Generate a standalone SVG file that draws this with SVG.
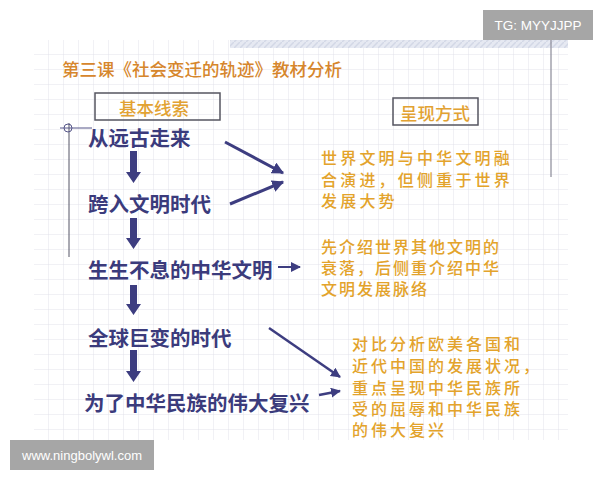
<svg xmlns="http://www.w3.org/2000/svg" width="600" height="480" viewBox="0 0 600 480">
<defs>
<pattern id="grid" x="34" y="40" width="15" height="15" patternUnits="userSpaceOnUse">
<path d="M15 0V15M0 15H15" fill="none" stroke="#e2e2ea" stroke-width="1"/>
</pattern>
<pattern id="hatch" width="6" height="6" patternUnits="userSpaceOnUse">
<rect width="6" height="6" fill="#e6e9f2"/>
<path d="M0 6L6 0" stroke="#d3d8e6" stroke-width="1.5"/>
</pattern>
<marker id="ah" viewBox="0 0 10 10" refX="9" refY="5" markerWidth="4" markerHeight="4" orient="auto" markerUnits="strokeWidth">
<path d="M0 0L10 5L0 10z" fill="#3d3d80"/>
</marker>
<marker id="ahs" viewBox="0 0 10 10" refX="9" refY="5" markerWidth="5" markerHeight="5" orient="auto" markerUnits="strokeWidth">
<path d="M0 0L10 5L0 10z" fill="#3d3d80"/>
</marker>
</defs>
<style>
.main{font-family:"Noto Sans CJK SC","Noto Sans",sans-serif;font-size:20.5px;font-weight:bold;fill:#3b3b7c;dominant-baseline:central}
.desc{font-family:"Noto Sans CJK SC","Noto Sans",sans-serif;font-size:16px;font-weight:500;fill:#e3a32b;dominant-baseline:central}
.hdr{font-family:"Noto Sans CJK SC","Noto Sans",sans-serif;font-size:17.5px;font-weight:500;fill:#e2a232;text-anchor:middle;dominant-baseline:central}
.box{fill:none;stroke:#555560;stroke-width:1.5}
.conn{stroke:#3d3d80;stroke-width:3;fill:none}
.down{fill:#3d3d80}
.wm{font-family:"Liberation Sans","DejaVu Sans",sans-serif;fill:#ffffff;dominant-baseline:central}
</style>
<rect width="600" height="480" fill="#ffffff"/>
<rect x="34" y="40" width="534" height="400" fill="url(#grid)"/>
<rect x="230" y="40" width="338" height="8" fill="url(#hatch)"/>
<line x1="551" y1="40" x2="551" y2="177" stroke="#8a8a98" stroke-width="1.2"/>
<line x1="69" y1="123" x2="69" y2="257" stroke="#555566" stroke-width="1"/>
<line x1="60" y1="128" x2="92" y2="128" stroke="#555588" stroke-width="1"/>
<circle cx="68" cy="128" r="4" fill="none" stroke="#555588" stroke-width="1"/>
<text x="62" y="68" font-family="Noto Sans CJK SC, Noto Sans, sans-serif" font-size="17.5" font-weight="500" fill="#d6862c" dominant-baseline="central">第三课《社会变迁的轨迹》教材分析</text>
<g id="header-basic">
<rect class="box" x="95" y="93" width="125" height="27"/>
<text class="hdr" x="154" y="107">基本线索</text>
</g>
<g id="header-present">
<rect class="box" x="393" y="98" width="85" height="27"/>
<text class="hdr" x="435" y="112">呈现方式</text>
</g>
<g id="n1"><text class="main" x="88" y="137">从远古走来</text></g>
<g id="n2"><text class="main" x="88" y="203">跨入文明时代</text></g>
<g id="n3"><text class="main" x="88" y="269">生生不息的中华文明</text></g>
<g id="n4"><text class="main" x="88" y="337">全球巨变的时代</text></g>
<g id="n5"><text class="main" x="84" y="402">为了中华民族的伟大复兴</text></g>
<g id="d1">
<text class="desc" x="321" y="157" letter-spacing="3.2">世界文明与中华文明融</text>
<text class="desc" x="321" y="179" letter-spacing="3.2">合演进，但侧重于世界</text>
<text class="desc" x="321" y="200" letter-spacing="3.2">发展大势</text>
</g>
<g id="d2">
<text class="desc" x="321" y="246" letter-spacing="2">先介绍世界其他文明的</text>
<text class="desc" x="321" y="267" letter-spacing="2">衰落，后侧重介绍中华</text>
<text class="desc" x="321" y="288" letter-spacing="2">文明发展脉络</text>
</g>
<g id="d3">
<text class="desc" x="352" y="343" letter-spacing="3">对比分析欧美各国和</text>
<text class="desc" x="352" y="365" letter-spacing="3">近代中国的发展状况，</text>
<text class="desc" x="352" y="387" letter-spacing="3">重点呈现中华民族所</text>
<text class="desc" x="352" y="408" letter-spacing="3">受的屈辱和中华民族</text>
<text class="desc" x="352" y="429" letter-spacing="3">的伟大复兴</text>
</g>
<g id="connectors">
<path class="down" d="M130 151H137V172H141L133.5 183L126 172H130Z"/>
<path class="down" d="M130 218H137V238H141L133.5 249L126 238H130Z"/>
<path class="down" d="M130 285H137V304H141L133.5 315L126 304H130Z"/>
<path class="down" d="M130 350H137V371H141L133.5 382L126 371H130Z"/>
<line class="conn" x1="225" y1="142" x2="283" y2="173" marker-end="url(#ah)"/>
<line class="conn" x1="230" y1="204" x2="283" y2="182" marker-end="url(#ah)"/>
<line stroke="#3d3d80" stroke-width="2" x1="278" y1="267" x2="300" y2="267" marker-end="url(#ahs)"/>
<line stroke="#3d3d80" stroke-width="2.5" x1="269" y1="328" x2="340" y2="377" marker-end="url(#ah)"/>
<line stroke="#3d3d80" stroke-width="2.5" x1="319" y1="395" x2="340" y2="391" marker-end="url(#ah)"/>
</g>
<g id="watermark-tg">
<rect x="483" y="10" width="110" height="30" fill="#a6a6a6"/>
<text class="wm" x="538" y="25" font-size="13.5" text-anchor="middle">TG: MYYJJPP</text>
</g>
<g id="watermark-url">
<rect x="10" y="440" width="144" height="30" fill="#a6a6a6"/>
<text class="wm" x="82" y="455" font-size="13" text-anchor="middle">www.ningbolywl.com</text>
</g>
</svg>
